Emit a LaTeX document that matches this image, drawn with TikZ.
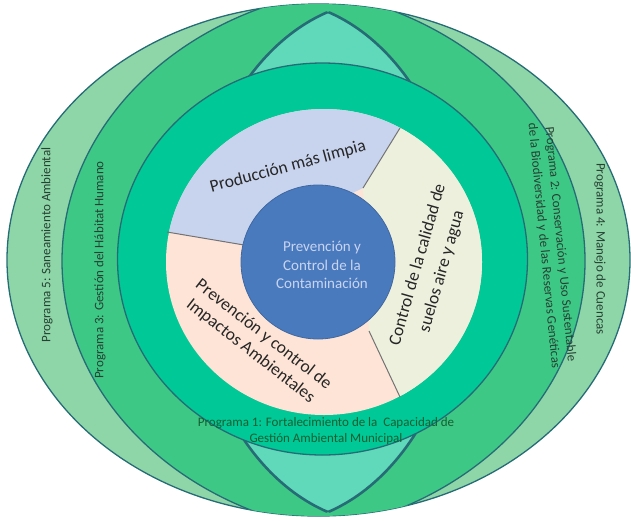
\documentclass[tikz,border=0pt]{standalone}
\usepackage{fontspec}
\setmainfont{Carlito}
\usepackage{xcolor}
\definecolor{bandlight}{RGB}{142,214,168}
\definecolor{bandmid}{RGB}{62,200,134}
\definecolor{lens}{RGB}{96,216,186}
\definecolor{core}{RGB}{0,200,150}
\definecolor{edge}{RGB}{38,108,118}
\definecolor{limpia}{RGB}{200,212,238}
\definecolor{suelos}{RGB}{238,240,222}
\definecolor{impactos}{RGB}{253,228,214}
\definecolor{centro}{RGB}{74,122,190}
\definecolor{centrotxt}{RGB}{200,212,240}
\definecolor{progtxt}{RGB}{20,95,50}
\definecolor{sidetxt}{RGB}{38,64,50}

\begin{document}
\begin{tikzpicture}[x=1pt,y=-1pt]
	\tikzstyle{every node}=[inner sep=0pt,align=center]
	\tikzstyle{band}=[draw=edge,line width=1.3pt]
	\tikzstyle{divider}=[draw=black!55,line width=1pt]
	\tikzstyle{prog}=[font=\fontsize{13}{16.5}\selectfont,text=sidetxt]
	\tikzstyle{ringtext}=[font=\fontsize{17.5}{21}\selectfont,text=black!85]
	%\tikzstyle{ringtext}=[font=\large]
	\useasboundingbox (0,0) rectangle (631,520);
	% outer bands
	\filldraw[band,fill=bandlight] (318.5,260) ellipse [x radius=311.5pt,y radius=256pt];
	\begin{scope}
		\clip (318.5,260) ellipse [x radius=311.5pt,y radius=256pt];
		\begin{scope}
			\clip (390,261) ellipse [x radius=328pt,y radius=275pt];
			\fill[bandmid] (257,261) ellipse [x radius=328pt,y radius=275pt];
		\end{scope}
		\draw[band] (390,261) ellipse [x radius=328pt,y radius=275pt];
		\draw[band] (257,261) ellipse [x radius=328pt,y radius=275pt];
		% lens
		\begin{scope}
			\clip (270.7,262) ellipse [x radius=191.5pt,y radius=262pt];
			\filldraw[band,fill=lens,line width=2.6pt] (385.7,262) ellipse [x radius=192.9pt,y radius=262pt];
		\end{scope}
		\begin{scope}
			\clip (385.7,262) ellipse [x radius=192.9pt,y radius=262pt];
			\draw[band,line width=2.6pt] (270.7,262) ellipse [x radius=191.5pt,y radius=262pt];
		\end{scope}
	\end{scope}
	\filldraw[band,fill=core] (322.5,259) ellipse [x radius=205pt,y radius=196pt];
	% inner ring
	\fill[impactos] (324,262) ellipse [x radius=158pt,y radius=153pt];
	\begin{scope}
		\clip (324,262) ellipse [x radius=158pt,y radius=153pt];
		\fill[limpia] (90,219) -- (244,245) -- (363,188) -- (437,68) -- (437,40) -- (90,40) -- cycle;
		\fill[suelos] (437,68) -- (363,188) -- (369,331) -- (431,463) -- (600,463) -- (600,68) -- cycle;
	\end{scope}
	\draw[divider] (244,245) -- (167,232);
	\draw[divider] (363,188) -- (400,128);
	\draw[divider] (369,331) -- (400,397);
	\filldraw[fill=centro,draw=centro!85!black,line width=0.8pt] (318,262) circle (77pt);
	% texts
	\node[font=\fontsize{15}{18.5}\selectfont,text=centrotxt] (centro) at (322,265) {Prevención y\\Control de la\\Contaminación};
	\node[ringtext,rotate=15] (limpia) at (288,167) {Producción más limpia};
	\node[ringtext,rotate=74,font=\fontsize{17.5}{25}\selectfont] (suelos) at (430,268) {Control de la calidad de\\suelos aire y agua};
	\node[ringtext,rotate=-38] (impactos) at (257,343) {Prevención y control de\\Impactos Ambientales};
	\node[prog,rotate=90] (prog5) at (47,245) {Programa 5: Saneamiento Ambiental};
	\node[prog,rotate=90] (prog3) at (100,270) {Programa 3: Gestión del Hábitat Humano};
	\node[prog,rotate=-90] (prog4) at (600,249) {Programa 4: Manejo de Cuencas};
	\node[prog,rotate=-84.5] (prog2) at (552,245) {Programa 2: Conservación y Uso Sustentable\\de la Biodiversidad y de las Reservas Genéticas};
	\node[prog,text=progtxt] (prog1) at (326,431) {Programa 1: Fortalecimiento de la\ \ Capacidad de\\Gestión Ambiental Municipal};
\end{tikzpicture}
\end{document}
